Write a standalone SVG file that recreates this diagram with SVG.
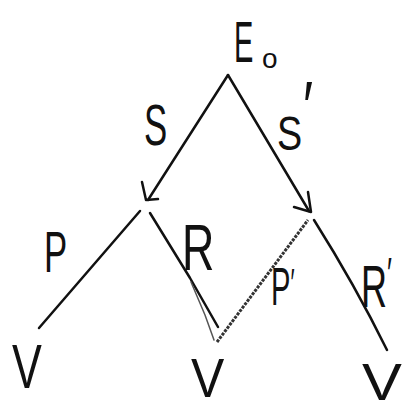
<svg xmlns="http://www.w3.org/2000/svg" width="414" height="417" viewBox="0 0 414 417">
<style>
.edge{fill:none;stroke:#111;stroke-width:2.5;stroke-linecap:round;stroke-linejoin:round}
.dot{fill:none;stroke:#333;stroke-width:3;stroke-dasharray:3 1.2;stroke-linecap:butt}
.lbl{font-family:"Liberation Sans",Arial,sans-serif;fill:#111}
</style>
<rect width="414" height="417" fill="#fff"/>
<g id="connectors">
  <g id="edge-S"><path class="edge" d="M228,75 L148,200"/><path class="edge" d="M142,182 L146,200 L158,199"/></g>
  <g id="edge-S1"><path class="edge" d="M228,75 L309,211"/><path class="edge" d="M308,192 L311,212 L294,207"/></g>
  <g id="edge-P"><path class="edge" d="M140,211 L39,328"/></g>
  <g id="edge-R"><path class="edge" d="M150,213 L190,278 L218,327"/><path class="edge" d="M191,282 L205,315 L214,340" style="stroke-width:1.5;stroke:#555"/></g>
  <g id="edge-P1"><path class="dot" d="M217,342 L308,220"/></g>
  <g id="edge-R1"><path class="edge" d="M314,220 Q355,285 387,350"/></g>
</g>
<g id="node-E0">
  <text class="lbl" transform="translate(234,62) scale(0.5,1)" font-size="58">E</text>
  <text class="lbl" x="262" y="68" font-size="28">o</text>
</g>
<g id="label-S"><text class="lbl" transform="translate(144,145) scale(0.6,1)" font-size="58">S</text></g>
<g id="label-S1"><text class="lbl" transform="translate(277,150) scale(0.77,1)" font-size="49">S<tspan dx="1" dy="-19" font-size="70">′</tspan></text></g>
<g id="label-P"><text class="lbl" transform="translate(44,272) scale(0.6,1)" font-size="58">P</text></g>
<g id="label-R"><text class="lbl" transform="translate(182,270) scale(0.7,1)" font-size="64">R</text></g>
<g id="label-P1"><text class="lbl" transform="translate(271,305) scale(0.55,1)" font-size="53">P<tspan dy="-8" font-size="40">′</tspan></text></g>
<g id="label-R1"><text class="lbl" transform="translate(361,307) scale(0.6,1)" font-size="60">R<tspan dy="-18" font-size="44">′</tspan></text></g>
<g id="node-V1"><text class="lbl" transform="translate(12,388) scale(0.71,1)" font-size="63">V</text></g>
<g id="node-V2"><text class="lbl" transform="translate(191,397) scale(0.89,1)" font-size="56">V</text></g>
<g id="node-V3"><text class="lbl" transform="translate(362,400) scale(1.15,1)" font-size="52">V</text></g>
</svg>
